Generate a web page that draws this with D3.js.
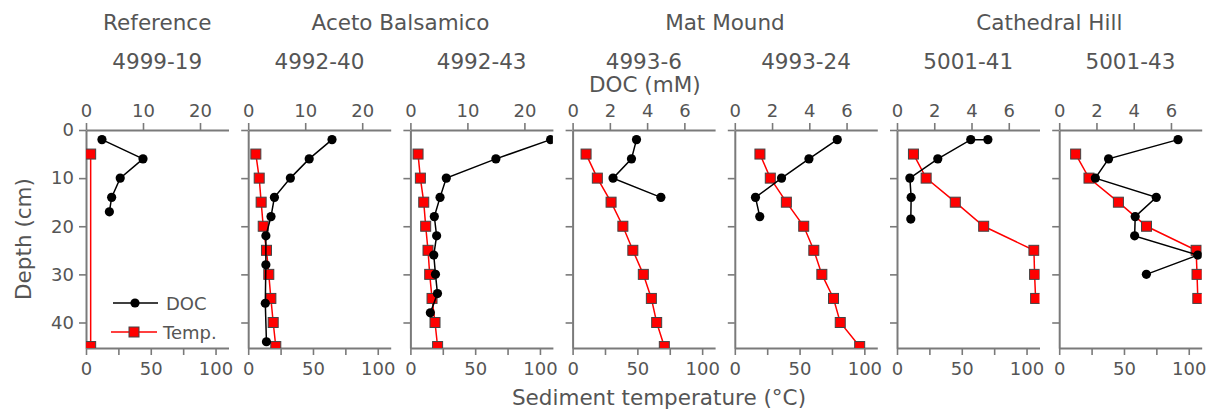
<!DOCTYPE html>
<html>
<head>
<meta charset="utf-8">
<script src="https://cdn.jsdelivr.net/npm/d3@7/dist/d3.min.js"></script>
<style>
  html, body { margin: 0; padding: 0; background: #fff; }
  svg { display: block; }
</style>
</head>
<body>
<svg id="chart" width="1214" height="414"></svg>
<script>
// Sediment cores, grouped by site
const coreIds = ["4999-19", "4992-40", "4992-43", "4993-6", "4993-24", "5001-41", "5001-43"];
const siteNames = ["Reference", "Aceto Balsamico", "Mat Mound", "Cathedral Hill"];
const siteFirstCore = [0, 1, 3, 5];
const siteLastCore = [0, 2, 4, 6];

// DOC (mM) profiles: depth (cm) and concentration
const docDepth4999_19 = [2, 6, 10, 14, 17];
const docValue4999_19 = [2.8, 10.0, 6.0, 4.5, 4.1];
const docDepth4992_40 = [2, 6, 10, 14, 18, 22, 28, 36, 44];
const docValue4992_40 = [14.7, 10.7, 7.4, 4.6, 4.0, 3.1, 3.1, 3.0, 3.2];
const docDepth4992_43 = [2, 6, 10, 14, 18, 22, 26, 30, 34, 38];
const docValue4992_43 = [24.6, 15.0, 6.3, 5.2, 4.2, 4.6, 4.1, 4.4, 4.75, 3.5];
const docDepth4993_6 = [2, 6, 10, 14];
const docValue4993_6 = [3.43, 3.16, 2.17, 4.74];
const docDepth4993_24 = [2, 6, 10, 14, 18];
const docValue4993_24 = [5.50, 3.98, 2.51, 1.11, 1.34];
const docDepth5001_41 = [2, 2, 6, 10, 14, 18.5];
const docValue5001_41 = [4.88, 3.96, 2.19, 0.69, 0.76, 0.74];
const docDepth5001_43 = [2, 6, 10, 14, 18, 22, 26, 30];
const docValue5001_43 = [6.38, 2.65, 1.94, 5.21, 4.08, 4.05, 7.44, 4.68];

// Sediment temperature (°C) profiles
const tempDepth4999_19 = [5, 45];
const tempValue4999_19 = [3.6, 3.6];
const tempDepth4992_40 = [5, 10, 15, 20, 25, 30, 35, 40, 45];
const tempValue4992_40 = [5.9, 8.5, 10.0, 11.6, 14.1, 15.9, 17.5, 19.3, 21.3];
const tempDepth4992_43 = [5, 10, 15, 20, 25, 30, 35, 40, 45];
const tempValue4992_43 = [5.9, 7.7, 10.3, 11.8, 13.6, 14.9, 16.7, 19.0, 21.0];
const tempDepth4993_6 = [5, 10, 15, 20, 25, 30, 35, 40, 45];
const tempValue4993_6 = [10.4, 19.1, 29.7, 38.8, 46.5, 54.6, 60.8, 64.9, 70.8];
const tempDepth4993_24 = [5, 10, 15, 20, 25, 30, 35, 40, 45];
const tempValue4993_24 = [19.4, 27.4, 39.8, 53.2, 61.0, 67.2, 76.2, 81.4, 96.4];
const tempDepth5001_41 = [5, 10, 15, 20, 25, 30, 35];
const tempValue5001_41 = [12.7, 22.5, 45.0, 66.9, 105.7, 106.2, 107.0];
const tempDepth5001_43 = [5, 10, 15, 20, 25, 30, 35];
const tempValue5001_43 = [12.7, 23.0, 45.7, 67.4, 105.7, 106.4, 107.0];

// Axis settings
const docMaxHigh = 25;          // first three cores
const docMaxLow = 7.65;         // remaining cores
const docTicksHigh = [0, 10, 20];
const docTicksLow = [0, 2, 4, 6];
const tempMax = 110;
const tempTicks = [0, 25, 50, 75, 100];
const tempTickLabels = [0, 50, 100];
const depthMax = 45.3;
const depthTicks = [0, 10, 20, 30, 40];

const docDepths = [docDepth4999_19, docDepth4992_40, docDepth4992_43, docDepth4993_6, docDepth4993_24, docDepth5001_41, docDepth5001_43];
const docValues = [docValue4999_19, docValue4992_40, docValue4992_43, docValue4993_6, docValue4993_24, docValue5001_41, docValue5001_43];
const tempDepths = [tempDepth4999_19, tempDepth4992_40, tempDepth4992_43, tempDepth4993_6, tempDepth4993_24, tempDepth5001_41, tempDepth5001_43];
const tempValues = [tempValue4999_19, tempValue4992_40, tempValue4992_43, tempValue4993_6, tempValue4993_24, tempValue5001_41, tempValue5001_43];

// Layout
const svg = d3.select("#chart");
const FONT = "'DejaVu Sans', Verdana, sans-serif";
const TEXT = "#555";
const AXIS = "#7a7a7a";
const plotTop = 130, plotBottom = 348;
const panelLeft0 = 86, panelStep = 162.2, panelW = 142.5;

const y = d3.scaleLinear().domain([0, depthMax]).range([plotTop, plotBottom]);
const panelX = i => panelLeft0 + i * panelStep;

function styleAxis(g, fontSize) {
  g.attr("font-family", FONT).attr("font-size", fontSize);
  g.select(".domain").attr("stroke", AXIS).attr("stroke-width", 2);
  g.selectAll(".tick line").attr("stroke", AXIS).attr("stroke-width", 1.6);
  g.selectAll(".tick text").attr("fill", TEXT);
}

const defs = svg.append("defs");

coreIds.forEach((id, i) => {
  const left = panelX(i);
  const right = left + panelW;
  const xT = d3.scaleLinear().domain([0, tempMax]).range([left, right]);
  const docMax = i < 3 ? docMaxHigh : docMaxLow;
  const xD = d3.scaleLinear().domain([0, docMax]).range([left, right]);

  const g = svg.append("g").attr("class", "panel");

  defs.append("clipPath").attr("id", "clip" + i)
    .append("rect").attr("x", left).attr("y", plotTop)
    .attr("width", panelW).attr("height", plotBottom - plotTop);

  // left (depth) axis
  const ay = g.append("g").attr("transform", `translate(${left},0)`)
    .call(d3.axisLeft(y).tickValues(depthTicks).tickSize(7).tickPadding(5).tickSizeOuter(0)
      .tickFormat(i === 0 ? d3.format("d") : () => ""));
  styleAxis(ay, 18);

  // bottom (temperature) axis
  const ab = g.append("g").attr("transform", `translate(0,${plotBottom})`)
    .call(d3.axisBottom(xT).tickValues(tempTicks).tickSize(7).tickPadding(7).tickSizeOuter(0)
      .tickFormat(d => tempTickLabels.includes(d) ? d : ""));
  styleAxis(ab, 18);

  // top (DOC) axis
  const at = g.append("g").attr("transform", `translate(0,${plotTop})`)
    .call(d3.axisTop(xD).tickValues(i < 3 ? docTicksHigh : docTicksLow).tickSize(7).tickPadding(6).tickSizeOuter(0)
      .tickFormat(d3.format("d")));
  styleAxis(at, 18);

  // core id
  g.append("text").attr("x", left + panelW / 2).attr("y", 69)
    .attr("text-anchor", "middle").attr("font-family", FONT).attr("font-size", 21.5)
    .attr("fill", TEXT).text(id);

  const marks = g.append("g").attr("clip-path", `url(#clip${i})`);

  // temperature profile
  const tData = tempDepths[i].map((d, k) => ({ depth: d, v: tempValues[i][k] }));
  marks.append("path").datum(tData)
    .attr("fill", "none").attr("stroke", "#ff0000").attr("stroke-width", 1.5)
    .attr("d", d3.line().x(d => xT(d.v)).y(d => y(d.depth)));
  marks.selectAll("rect.temp").data(tData).join("rect").attr("class", "temp")
    .attr("x", d => xT(d.v) - 5).attr("y", d => y(d.depth) - 5)
    .attr("width", 10).attr("height", 10)
    .attr("fill", "#ff0000").attr("stroke", "#444").attr("stroke-width", 1);

  // DOC profile
  const dData = docDepths[i].map((d, k) => ({ depth: d, v: docValues[i][k] }));
  marks.append("path").datum(dData)
    .attr("fill", "none").attr("stroke", "#000").attr("stroke-width", 1.5)
    .attr("d", d3.line().x(d => xD(d.v)).y(d => y(d.depth)));
  marks.selectAll("circle.doc").data(dData).join("circle").attr("class", "doc")
    .attr("cx", d => xD(d.v)).attr("cy", d => y(d.depth)).attr("r", 4.6)
    .attr("fill", "#000");
});

// site titles
siteNames.forEach((name, s) => {
  const a = panelX(siteFirstCore[s]);
  const b = panelX(siteLastCore[s]) + panelW;
  svg.append("text").attr("x", (a + b) / 2).attr("y", 29.5)
    .attr("text-anchor", "middle").attr("font-family", FONT).attr("font-size", 21.5)
    .attr("fill", TEXT).text(name);
});

// axis titles
svg.append("text").attr("x", panelX(3) + panelW / 2 + 1).attr("y", 92)
  .attr("text-anchor", "middle").attr("font-family", FONT).attr("font-size", 21.5)
  .attr("fill", TEXT).text("DOC (mM)");
svg.append("text").attr("x", 659).attr("y", 405)
  .attr("text-anchor", "middle").attr("font-family", FONT).attr("font-size", 21.5)
  .attr("fill", TEXT).text("Sediment temperature (°C)");
svg.append("text").attr("transform", "translate(31,239) rotate(-90)")
  .attr("text-anchor", "middle").attr("font-family", FONT).attr("font-size", 21.5)
  .attr("fill", TEXT).text("Depth (cm)");

// legend
const lg = svg.append("g").attr("font-family", FONT).attr("font-size", 18).attr("fill", TEXT);
lg.append("line").attr("x1", 113).attr("x2", 158).attr("y1", 303).attr("y2", 303)
  .attr("stroke", "#000").attr("stroke-width", 1.5);
lg.append("circle").attr("cx", 135).attr("cy", 303).attr("r", 4.6).attr("fill", "#000");
lg.append("text").attr("x", 166).attr("y", 309.5).text("DOC");
lg.append("line").attr("x1", 111).attr("x2", 157).attr("y1", 332).attr("y2", 332)
  .attr("stroke", "#ff0000").attr("stroke-width", 1.5);
lg.append("rect").attr("x", 129).attr("y", 327).attr("width", 10).attr("height", 10)
  .attr("fill", "#ff0000").attr("stroke", "#444").attr("stroke-width", 1);
lg.append("text").attr("x", 163).attr("y", 338.5).text("Temp.");
</script>
</body>
</html>
